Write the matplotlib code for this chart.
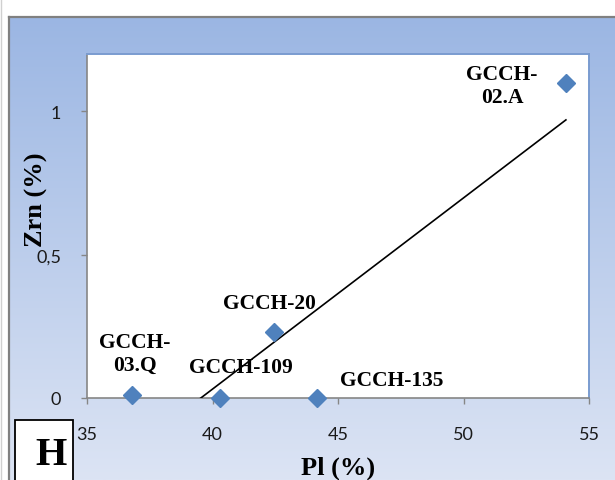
import numpy as np
import matplotlib
matplotlib.use("Agg")
import matplotlib.pyplot as plt
from matplotlib.patches import Rectangle
from matplotlib.colors import LinearSegmentedColormap

# Sample data: plagioclase vs zircon content
samples = ["GCCH-\n02.A", "GCCH-20", "GCCH-\n03.Q", "GCCH-109", "GCCH-135"]
pl_pct = [54.08, 42.45, 36.79, 40.30, 44.16]
zrn_pct = [1.10, 0.231, 0.01, 0.0, 0.0]
label_offsets = [(-46, -2), (-3, 21), (2, 30), (15, 22), (54, 13)]

x_ticks = [35, 40, 45, 50, 55]
y_ticks = [0, 0.5, 1]
y_tick_labels = ["0", "0,5", "1"]

W, H = 615, 481
fig = plt.figure(figsize=(W / 100, H / 100), dpi=100)
fig.patch.set_facecolor("white")

# Chart-area background with vertical gradient
bg = fig.add_axes([0, 0, 1, 1])
bg.set_xlim(0, W)
bg.set_ylim(H, 0)
bg.axis("off")
cmap = LinearSegmentedColormap.from_list("grad", ["#9BB6E3", "#DCE4F4"])
grad = np.linspace(0, 1, 256).reshape(-1, 1)
bg.imshow(grad, cmap=cmap, aspect="auto", extent=(8.5, W, H, 17.5), zorder=0)
bg.plot([8.5, 8.5], [H, 17.5], color="#808080", lw=1.6, solid_capstyle="projecting", zorder=2)
bg.plot([8.5, W], [17.5, 17.5], color="#808080", lw=1.6, solid_capstyle="projecting", zorder=2)
bg.plot([0.5, 0.5], [0, H], color="#D0D0D0", lw=1, zorder=2)

# Panel letter box
bg.add_patch(Rectangle((14.5, 420.5), 58, 70, facecolor="white", edgecolor="black", lw=1.3, zorder=3))
bg.text(50.5, 456, "H", fontsize=29, fontweight="bold", family="Liberation Serif",
        ha="center", va="center", zorder=4)

# Plot area
ax = fig.add_axes([87 / W, 1 - 399 / H, (589 - 87) / W, (399 - 55) / H])
ax.set_facecolor("white")
ax.set_xlim(35, 55)
ax.set_ylim(0, 1.2)

for side in ("left", "bottom"):
    ax.spines[side].set_color("#868686")
    ax.spines[side].set_linewidth(1.2)
for side in ("top", "right"):
    ax.spines[side].set_color("#7A9CD0")
    ax.spines[side].set_linewidth(1.4)

ax.set_xticks(x_ticks)
ax.set_yticks(y_ticks)
ax.set_yticklabels(y_tick_labels)
ax.tick_params(axis="both", direction="out", length=4.5, width=1.0, color="#868686",
               labelsize=13, labelcolor="#1a1a1a")
ax.tick_params(axis="x", pad=16)
ax.tick_params(axis="y", pad=14)
for lab in ax.get_xticklabels() + ax.get_yticklabels():
    lab.set_family("Lato")

# Linear trend line
coef = np.polyfit(pl_pct, zrn_pct, 1)
xs = np.array([min(pl_pct), max(pl_pct)])
ax.plot(xs, np.polyval(coef, xs), color="black", lw=1.2, zorder=3)

ax.plot(pl_pct, zrn_pct, linestyle="none", marker="D", markersize=9.5,
        color="#4F81BD", markeredgecolor="#4F81BD", zorder=4, clip_on=False)

for name, x, y, (dx, dy) in zip(samples, pl_pct, zrn_pct, label_offsets):
    ax.annotate(name, (x, y), xytext=(dx, dy), textcoords="offset points",
                ha="center", va="center", multialignment="center",
                fontsize=15.5, fontweight="bold", family="Liberation Serif",
                linespacing=1.15, zorder=5, annotation_clip=False)

fig.text(338 / W, 1 - 468 / H, "Pl (%)", fontsize=19, fontweight="bold",
         family="Liberation Serif", ha="center", va="center")
fig.text(36 / W, 1 - 200 / H, "Zrn (%)", fontsize=19, fontweight="bold",
         family="Liberation Serif", ha="center", va="center", rotation=90)

fig.savefig("out.png", dpi=100)
